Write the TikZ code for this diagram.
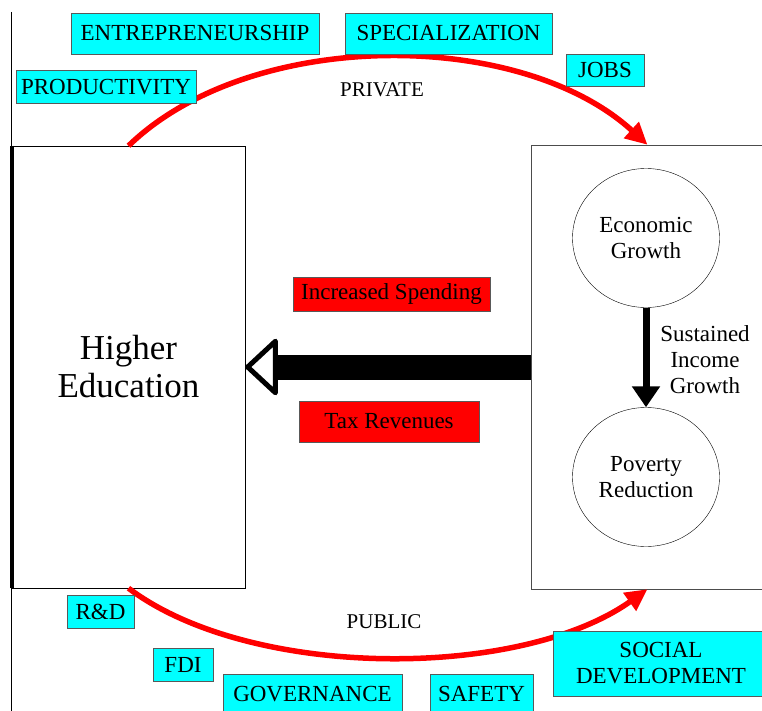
\documentclass[tikz,border=0pt]{standalone}
\usepackage{fontspec}
\setmainfont{Liberation Serif}
\usetikzlibrary{arrows.meta, shapes.geometric}
\definecolor{boxcyan}{RGB}{0,255,255}
\definecolor{boxred}{RGB}{255,0,0}

\begin{document}
\begin{tikzpicture}[
    x=1pt, y=-1pt,
    every node/.style={
        font=\fontsize{23}{26}\selectfont,
        inner sep=0pt,
    },
    factor/.style={
        draw=black!65,
        fill=boxcyan,
        align=center,
    },
    revenue/.style={
        draw=black!65,
        fill=boxred,
    },
    bigbox/.style={
        draw,
        rectangle,
    },
    stage/.style={
        ellipse,
        draw,
        align=center,
        minimum width=147,
        minimum height=139,
    },
    flow/.style={
        boxred,
        line width=5.5pt,
        -{Triangle[length=22pt, width=21pt]},
    },
    caption/.style={
        font=\fontsize{21}{26}\selectfont,
    }
]
    \clip (0,0) rectangle (762,711);

    % Frame line
    \draw (11,12) -- (11,711);

    % Main boxes
    \node[bigbox, minimum width=233, minimum height=442,
          font=\fontsize{35}{38}\selectfont, align=center]
        (hedu) at (128.5,367) {Higher\\Education};
    \draw[line width=4pt] (hedu.north west) -- (hedu.south west);
    \node[bigbox, draw=black!70, minimum width=233, minimum height=444]
        (econbox) at (647.5,367) {};

    % Stages
    \node[stage] (growth) at (646,238) {Economic\\Growth};
    \node[stage] (poverty) at (646,477) {Poverty\\Reduction};
    \draw[line width=7pt, -{Triangle[length=21pt, width=27pt]}]
        (growth) -- (poverty);
    \node[align=center] (income) at (705,360) {Sustained\\Income\\Growth};

    % Feedback arrow
    \draw[line width=25pt,
          -{Triangle[open, length=34pt, width=62pt, line width=5pt 0, round]}]
        (econbox.west) -- (hedu.east);
    \node[revenue, minimum width=197, minimum height=34]
        (spend) at (391.5,294) {Increased Spending};
    \node[revenue, minimum width=180, minimum height=41]
        (tax) at (389,421.5) {Tax Revenues};

    % Private and public flows
    \draw[flow] (hedu.north) .. controls (250,28) and (520,28) .. (econbox.north);
    \draw[flow] (hedu.south) .. controls (250,680) and (520,680) .. (econbox.south);
    \node[caption] (private) at (382,90) {PRIVATE};
    \node[caption] (public) at (384,622) {PUBLIC};

    % Private benefits
    \node[factor, minimum width=248, minimum height=41] (entre) at (195,33.5) {ENTREPRENEURSHIP};
    \node[factor, minimum width=180, minimum height=33] (prod) at (106,87) {PRODUCTIVITY};
    \node[factor, minimum width=207, minimum height=41] (spec) at (448.5,33.5) {SPECIALIZATION};
    \node[factor, minimum width=78, minimum height=32] (jobs) at (605,70) {JOBS};

    % Public benefits
    \node[factor, minimum width=67, minimum height=33] (rnd) at (100.5,611.5) {R\&D};
    \node[factor, minimum width=60, minimum height=33] (fdi) at (183,664.5) {FDI};
    \node[factor, minimum width=179, minimum height=40] (gov) at (312.5,694) {GOVERNANCE};
    \node[factor, minimum width=103, minimum height=40] (safety) at (481.5,694) {SAFETY};
    \node[factor, minimum width=216, minimum height=65] (social) at (661,663.5) {SOCIAL\\DEVELOPMENT};
\end{tikzpicture}
\end{document}
